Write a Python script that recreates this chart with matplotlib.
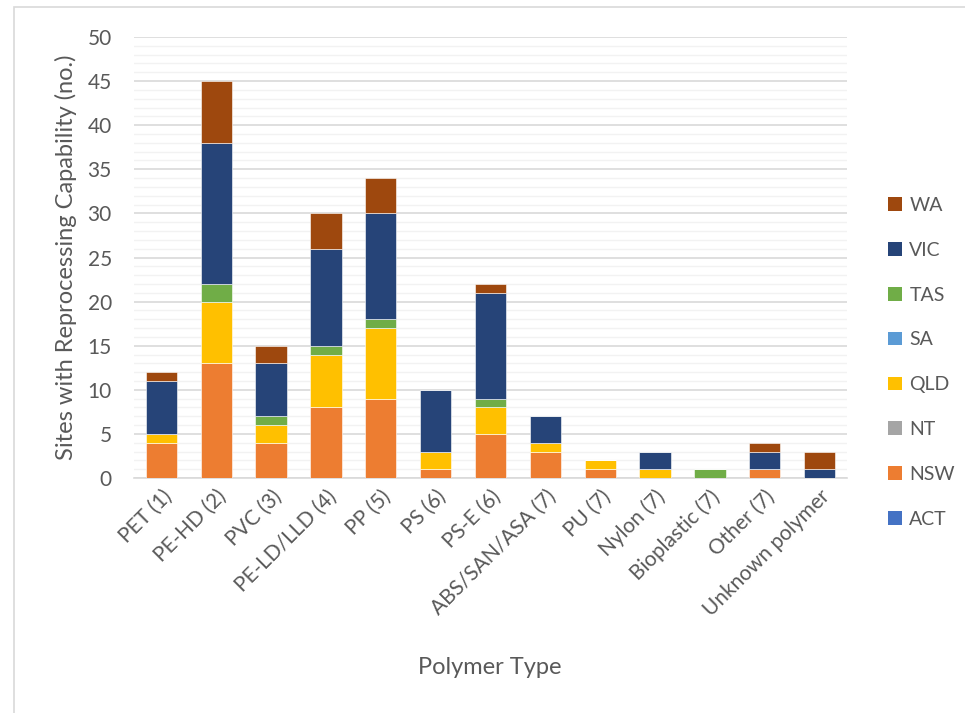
import matplotlib
matplotlib.use("Agg")
from matplotlib import pyplot as plt
from matplotlib.patches import Rectangle, Patch
from matplotlib.ticker import MultipleLocator
import numpy as np

categories = ["PET (1)", "PE-HD (2)", "PVC (3)", "PE-LD/LLD (4)", "PP (5)", "PS (6)",
              "PS-E (6)", "ABS/SAN/ASA (7)", "PU (7)", "Nylon (7)", "Bioplastic (7)",
              "Other (7)", "Unknown polymer"]
act = [0, 0, 0, 0, 0, 0, 0, 0, 0, 0, 0, 0, 0]
nsw = [4, 13, 4, 8, 9, 1, 5, 3, 1, 0, 0, 1, 0]
nt  = [0, 0, 0, 0, 0, 0, 0, 0, 0, 0, 0, 0, 0]
qld = [1, 7, 2, 6, 8, 2, 3, 1, 1, 1, 0, 0, 0]
sa  = [0, 0, 0, 0, 0, 0, 0, 0, 0, 0, 0, 0, 0]
tas = [0, 2, 1, 1, 1, 0, 1, 0, 0, 0, 1, 0, 0]
vic = [6, 16, 6, 11, 12, 7, 12, 3, 0, 2, 0, 2, 1]
wa  = [1, 7, 2, 4, 4, 0, 1, 0, 0, 0, 0, 1, 2]

states = ["ACT", "NSW", "NT", "QLD", "SA", "TAS", "VIC", "WA"]
series = [act, nsw, nt, qld, sa, tas, vic, wa]
colors = ["#4472C4", "#ED7D31", "#A5A5A5", "#FFC000", "#5B9BD5", "#70AD47", "#264478", "#9E480E"]

plt.rcParams['font.family'] = ['Lato', 'DejaVu Sans']
txt = "#595959"

fig = plt.figure(figsize=(9.65, 7.13), dpi=100)
ax = fig.add_axes([134/965, 1 - 478/713, (847-134)/965, (478-37)/713])

# outer chart frame
fig.patches.append(Rectangle((14/965, -0.1), 1.2, 1 - 7/713 + 0.1, transform=fig.transFigure,
                             fill=False, edgecolor="#D9D9D9", linewidth=1.2))

x = np.arange(len(categories))
bottom = np.zeros(len(categories))
for name, vals, col in zip(states, series, colors):
    vals = np.array(vals, dtype=float)
    ax.bar(x, vals, 0.57, bottom=bottom, color=col, edgecolor="white", linewidth=0.4, zorder=3)
    bottom += vals

ax.set_xlim(-0.5, len(categories) - 0.5)
ax.set_ylim(0, 50)
ax.yaxis.set_major_locator(MultipleLocator(5))
ax.yaxis.set_minor_locator(MultipleLocator(1))
ax.grid(axis="y", which="major", color="#D9D9D9", linewidth=1.2, zorder=0)
ax.grid(axis="y", which="minor", color="#F2F2F2", linewidth=1.0, zorder=0)
for s in ["top", "right", "left"]:
    ax.spines[s].set_visible(False)
ax.spines["bottom"].set_color("#D9D9D9")
ax.spines["bottom"].set_linewidth(1.2)
ax.tick_params(axis="both", which="both", length=0, colors=txt, labelsize=15)
ax.tick_params(axis="y", pad=16)
ax.tick_params(axis="x", pad=6)
ax.set_xticks(x)
ax.set_xticklabels(categories, rotation=45, ha="right", rotation_mode="anchor")

fig.text(66/965, 1 - 257/713, "Sites with Reprocessing Capability (no.)", rotation=90,
         ha="center", va="center", color=txt, fontsize=17)
fig.text(490/965, 1 - 668/713, "Polymer Type", ha="center", va="center", color=txt, fontsize=17)

handles = [Patch(facecolor=c) for c in colors][::-1]
fig.legend(handles, states[::-1], loc="upper left", bbox_to_anchor=(888/965, 1 - 197/713),
           frameon=False, fontsize=14, labelcolor=txt, handlelength=0.7, handleheight=0.7,
           handletextpad=0.4, labelspacing=1.43, borderpad=0, borderaxespad=0)

fig.savefig("out.png", dpi=100)
